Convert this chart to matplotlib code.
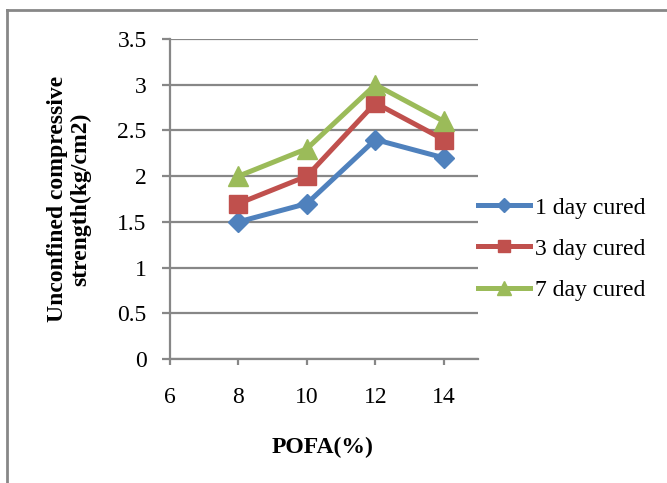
import matplotlib
matplotlib.use("Agg")
import matplotlib.pyplot as plt
from matplotlib.lines import Line2D

pofa = [8, 10, 12, 14]
day1 = [1.5, 1.7, 2.4, 2.2]
day3 = [1.7, 2.0, 2.8, 2.4]
day7 = [2.0, 2.3, 3.0, 2.6]
series_labels = ["1 day cured", "3 day cured", "7 day cured"]
x_ticks = [6, 8, 10, 12, 14]
y_ticks = [0, 0.5, 1, 1.5, 2, 2.5, 3, 3.5]
y_tick_labels = ["0", "0.5", "1", "1.5", "2", "2.5", "3", "3.5"]

plt.rcParams['font.family'] = ['Liberation Serif', 'DejaVu Serif']

W, H = 667, 483
fig = plt.figure(figsize=(W / 100, H / 100), dpi=100)
ax = fig.add_axes([170 / W, 1 - 359 / H, (478 - 170) / W, (359 - 39) / H])

grid_col = "#878787"
colors = ["#4F81BD", "#C0504D", "#9BBB59"]
markers = ["D", "s", "^"]
msizes = [10, 13, 14]

for ys, c, m, ms, lab in zip([day1, day3, day7], colors, markers, msizes, series_labels):
    ax.plot(pofa, ys, color=c, lw=3.6, marker=m, markersize=ms, label=lab, zorder=3)

ax.set_xlim(6, 15)
ax.set_ylim(0, 3.5)
ax.set_xticks(x_ticks)
ax.set_xticklabels([str(t) for t in x_ticks])
ax.set_yticks(y_ticks)
ax.set_yticklabels(y_tick_labels)
ax.yaxis.grid(True, color=grid_col, lw=1.6)
ax.set_axisbelow(True)
for s in ["top", "right"]:
    ax.spines[s].set_visible(False)
for s in ["left", "bottom"]:
    ax.spines[s].set_color(grid_col)
    ax.spines[s].set_linewidth(1.6)
ax.tick_params(axis="both", colors=grid_col, width=1.6, labelsize=17, labelcolor="black")
ax.tick_params(axis="x", length=4.3, pad=16)
ax.tick_params(axis="y", length=5.8, pad=11)

fig.text(323 / W, 1 - 447 / H, "POFA(%)", fontsize=17, fontweight="bold", ha="center", va="center")
fig.text(69 / W, 1 - 199 / H, "Unconfined compressive\nstrength(kg/cm2)", fontsize=17,
         fontweight="bold", rotation=90, ha="center", va="center", multialignment="center",
         linespacing=1.15)

leg = ax.legend(loc="center left", bbox_to_anchor=(1.0, 0.344), frameon=False, fontsize=17,
                handlelength=2.2, handletextpad=0.2, labelspacing=0.83, borderaxespad=0,
                borderpad=0, markerscale=0.7)

fig.add_artist(Line2D([7 / W, 7 / W], [0, 1 - 10 / H], transform=fig.transFigure, color=grid_col, lw=2))
fig.add_artist(Line2D([7 / W, 1], [1 - 10 / H, 1 - 10 / H], transform=fig.transFigure, color=grid_col, lw=2))

fig.savefig("out.png", dpi=100)
